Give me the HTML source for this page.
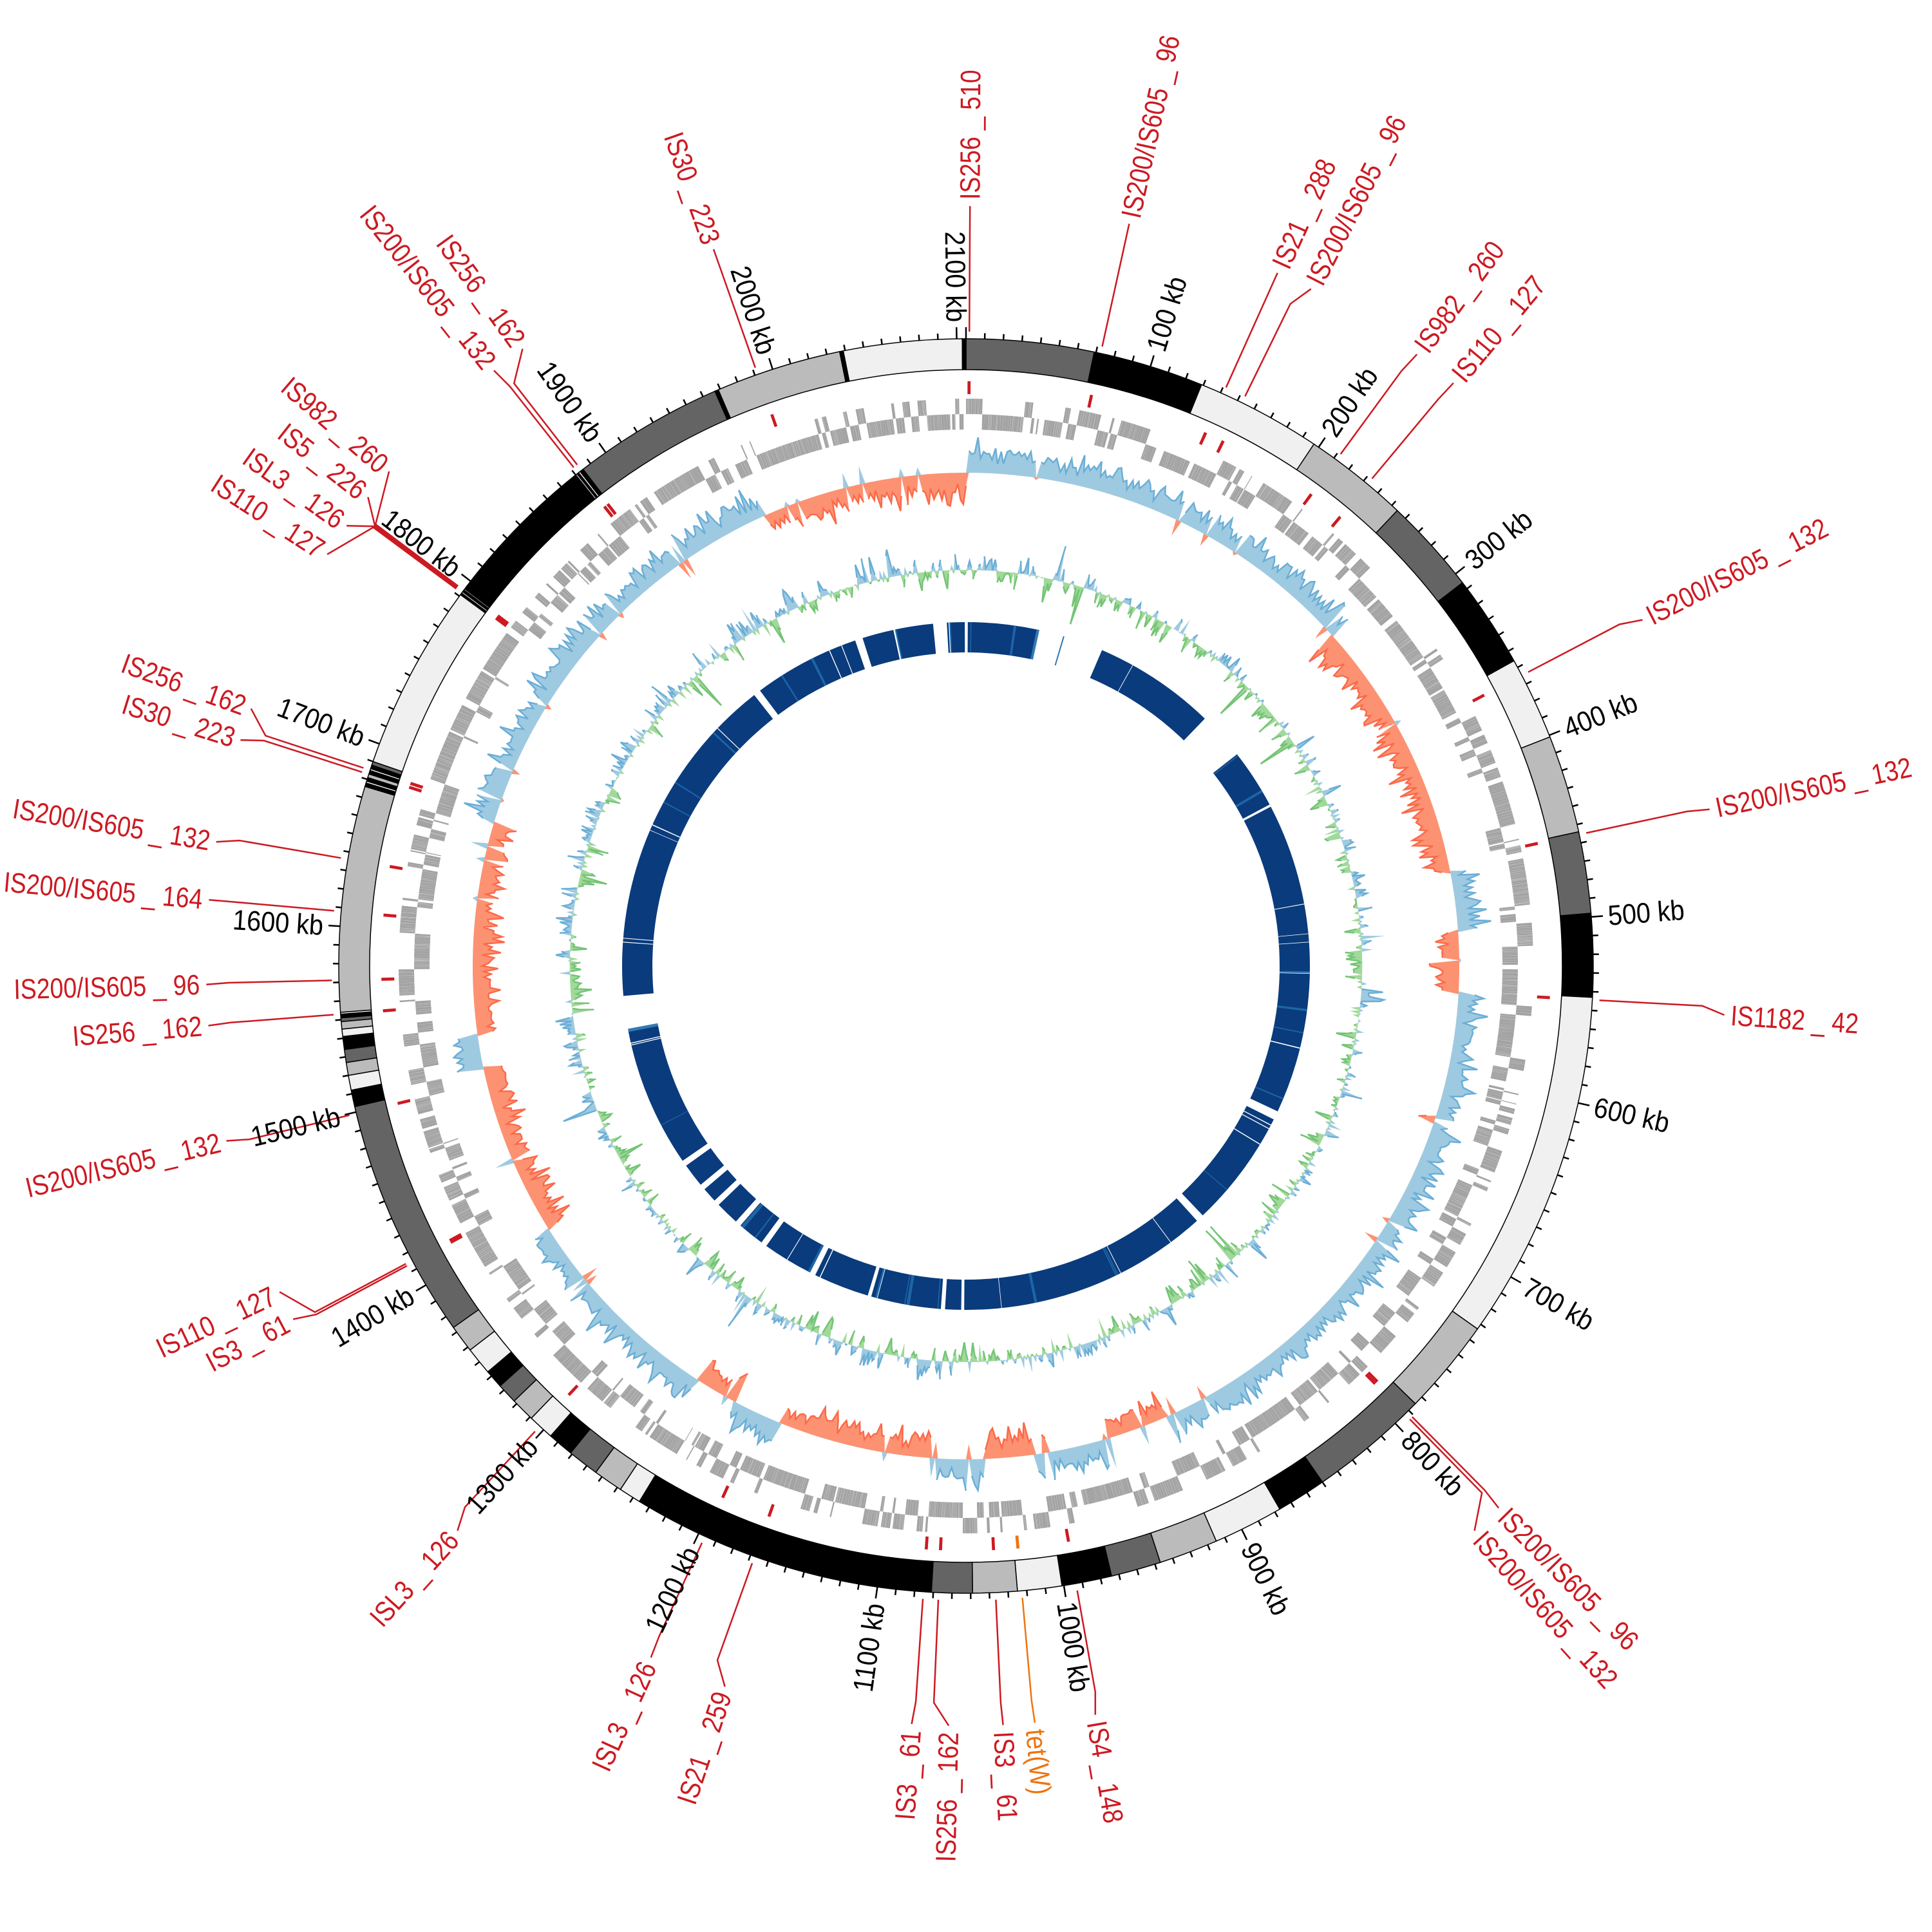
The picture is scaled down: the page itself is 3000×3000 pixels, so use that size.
<!DOCTYPE html>
<html><head><meta charset="utf-8">
<style>
html,body{margin:0;padding:0;background:#fff;}
svg{display:block;}
.r{font-family:"Liberation Sans",sans-serif;font-size:44px;fill:#cc1a22;}
.o{font-family:"Liberation Sans",sans-serif;font-size:44px;fill:#ee7410;}
.k{font-family:"Liberation Sans",sans-serif;font-size:44px;fill:#000;}
</style></head>
<body>
<svg id="s" xmlns="http://www.w3.org/2000/svg" width="3000" height="3000" viewBox="0 0 3000 3000">
<rect width="3000" height="3000" fill="#fff"/>
<g id="tracks"></g>
<g id="ring"></g>
<g id="lines" fill="none" stroke="#cc1a22" stroke-width="2.5"></g>
<g id="ticklabels" dominant-baseline="central">
<text class="k" transform="rotate(-72.90 1500 1500) translate(2500 1500) scale(0.9 1)">100 kb</text>
<text class="k" transform="rotate(-55.80 1500 1500) translate(2500 1500) scale(0.9 1)">200 kb</text>
<text class="k" transform="rotate(-38.69 1500 1500) translate(2500 1500) scale(0.9 1)">300 kb</text>
<text class="k" transform="rotate(-21.59 1500 1500) translate(2500 1500) scale(0.9 1)">400 kb</text>
<text class="k" transform="rotate(-4.49 1500 1500) translate(2500 1500) scale(0.9 1)">500 kb</text>
<text class="k" transform="rotate(12.61 1500 1500) translate(2500 1500) scale(0.9 1)">600 kb</text>
<text class="k" transform="rotate(29.71 1500 1500) translate(2500 1500) scale(0.9 1)">700 kb</text>
<text class="k" transform="rotate(46.82 1500 1500) translate(2500 1500) scale(0.9 1)">800 kb</text>
<text class="k" transform="rotate(63.92 1500 1500) translate(2500 1500) scale(0.9 1)">900 kb</text>
<text class="k" transform="rotate(81.02 1500 1500) translate(2500 1500) scale(0.9 1)">1000 kb</text>
<text class="k" text-anchor="end" transform="rotate(278.12 1500 1500) translate(500 1500) scale(0.9 1)">1100 kb</text>
<text class="k" text-anchor="end" transform="rotate(295.23 1500 1500) translate(500 1500) scale(0.9 1)">1200 kb</text>
<text class="k" text-anchor="end" transform="rotate(312.33 1500 1500) translate(500 1500) scale(0.9 1)">1300 kb</text>
<text class="k" text-anchor="end" transform="rotate(329.43 1500 1500) translate(500 1500) scale(0.9 1)">1400 kb</text>
<text class="k" text-anchor="end" transform="rotate(346.53 1500 1500) translate(500 1500) scale(0.9 1)">1500 kb</text>
<text class="k" text-anchor="end" transform="rotate(3.63 1500 1500) translate(500 1500) scale(0.9 1)">1600 kb</text>
<text class="k" text-anchor="end" transform="rotate(20.74 1500 1500) translate(500 1500) scale(0.9 1)">1700 kb</text>
<text class="k" text-anchor="end" transform="rotate(37.84 1500 1500) translate(500 1500) scale(0.9 1)">1800 kb</text>
<text class="k" text-anchor="end" transform="rotate(54.94 1500 1500) translate(500 1500) scale(0.9 1)">1900 kb</text>
<text class="k" text-anchor="end" transform="rotate(72.04 1500 1500) translate(500 1500) scale(0.9 1)">2000 kb</text>
<text class="k" text-anchor="end" transform="rotate(89.14 1500 1500) translate(500 1500) scale(0.9 1)">2100 kb</text>
</g>
<g id="labels" dominant-baseline="central">
<text class="r" transform="rotate(-89.7 1500 1500) translate(2690 1500) scale(0.85 1)">IS256 _ 510</text>
<text class="r" transform="rotate(-77.6 1500 1500) translate(2690 1500) scale(0.85 1)">IS200/IS605 _ 96</text>
<text class="r" transform="rotate(-65.8 1500 1500) translate(2690 1500) scale(0.85 1)">IS21 _ 288</text>
<text class="r" transform="rotate(-63.0 1500 1500) translate(2690 1500) scale(0.85 1)">IS200/IS605 _ 96</text>
<text class="r" transform="rotate(-53.6 1500 1500) translate(2690 1500) scale(0.85 1)">IS982 _ 260</text>
<text class="r" transform="rotate(-50.1 1500 1500) translate(2690 1500) scale(0.85 1)">IS110 _ 127</text>
<text class="r" transform="rotate(-27.1 1500 1500) translate(2690 1500) scale(0.85 1)">IS200/IS605 _ 132</text>
<text class="r" transform="rotate(-11.9 1500 1500) translate(2690 1500) scale(0.85 1)">IS200/IS605 _ 132</text>
<text class="r" transform="rotate(3.7 1500 1500) translate(2690 1500) scale(0.85 1)">IS1182 _ 42</text>
<text class="r" transform="rotate(45.5 1500 1500) translate(2690 1500) scale(0.85 1)">IS200/IS605 _ 96</text>
<text class="r" transform="rotate(48.0 1500 1500) translate(2690 1500) scale(0.85 1)">IS200/IS605 _ 132</text>
<text class="r" transform="rotate(80.2 1500 1500) translate(2690 1500) scale(0.85 1)">IS4 _ 148</text>
<text class="o" transform="rotate(84.8 1500 1500) translate(2690 1500) scale(0.85 1)">tet(W)</text>
<text class="r" transform="rotate(87.2 1500 1500) translate(2690 1500) scale(0.85 1)">IS3 _ 61</text>
<text class="r" text-anchor="end" transform="rotate(271.3 1500 1500) translate(310 1500) scale(0.85 1)">IS256 _ 162</text>
<text class="r" text-anchor="end" transform="rotate(274.1 1500 1500) translate(310 1500) scale(0.85 1)">IS3 _ 61</text>
<text class="r" text-anchor="end" transform="rotate(288.5 1500 1500) translate(310 1500) scale(0.85 1)">IS21 _ 259</text>
<text class="r" text-anchor="end" transform="rotate(294.5 1500 1500) translate(310 1500) scale(0.85 1)">ISL3 _ 126</text>
<text class="r" text-anchor="end" transform="rotate(312.0 1500 1500) translate(310 1500) scale(0.85 1)">ISL3 _ 126</text>
<text class="r" text-anchor="end" transform="rotate(332.3 1500 1500) translate(310 1500) scale(0.85 1)">IS3 _ 61</text>
<text class="r" text-anchor="end" transform="rotate(334.6 1500 1500) translate(310 1500) scale(0.85 1)">IS110 _ 127</text>
<text class="r" text-anchor="end" transform="rotate(346.7 1500 1500) translate(310 1500) scale(0.85 1)">IS200/IS605 _ 132</text>
<text class="r" text-anchor="end" transform="rotate(355.5 1500 1500) translate(310 1500) scale(0.85 1)">IS256 _ 162</text>
<text class="r" text-anchor="end" transform="rotate(358.6 1500 1500) translate(310 1500) scale(0.85 1)">IS200/IS605 _ 96</text>
<text class="r" text-anchor="end" transform="rotate(365.0 1500 1500) translate(310 1500) scale(0.85 1)">IS200/IS605 _ 164</text>
<text class="r" text-anchor="end" transform="rotate(369.4 1500 1500) translate(310 1500) scale(0.85 1)">IS200/IS605 _ 132</text>
<text class="r" text-anchor="end" transform="rotate(377.3 1500 1500) translate(310 1500) scale(0.85 1)">IS30 _ 223</text>
<text class="r" text-anchor="end" transform="rotate(379.8 1500 1500) translate(310 1500) scale(0.85 1)">IS256 _ 162</text>
<text class="r" text-anchor="end" transform="rotate(392.8 1500 1500) translate(310 1500) scale(0.85 1)">IS110 _ 127</text>
<text class="r" text-anchor="end" transform="rotate(395.4 1500 1500) translate(310 1500) scale(0.85 1)">ISL3 _ 126</text>
<text class="r" text-anchor="end" transform="rotate(398.1 1500 1500) translate(310 1500) scale(0.85 1)">IS5 _ 226</text>
<text class="r" text-anchor="end" transform="rotate(400.6 1500 1500) translate(310 1500) scale(0.85 1)">IS982 _ 260</text>
<text class="r" text-anchor="end" transform="rotate(411.6 1500 1500) translate(310 1500) scale(0.85 1)">IS200/IS605 _ 132</text>
<text class="r" text-anchor="end" transform="rotate(414.3 1500 1500) translate(310 1500) scale(0.85 1)">IS256 _ 162</text>
<text class="r" text-anchor="end" transform="rotate(430.6 1500 1500) translate(310 1500) scale(0.85 1)">IS30 _ 223</text>
</g>
</svg>
<script>
(function(){
var NS="http://www.w3.org/2000/svg",C=1500,L=2105;
function P(r,a){var t=a*Math.PI/180;return [C+r*Math.sin(t),C-r*Math.cos(t)];}
function f(v){return v.toFixed(1);}
function sec(r1,r2,a1,a2){var lg=(a2-a1)>180?1:0;var p1=P(r2,a1),p2=P(r2,a2),p3=P(r1,a2),p4=P(r1,a1);
return "M"+f(p1[0])+" "+f(p1[1])+"A"+r2+" "+r2+" 0 "+lg+" 1 "+f(p2[0])+" "+f(p2[1])+"L"+f(p3[0])+" "+f(p3[1])+"A"+r1+" "+r1+" 0 "+lg+" 0 "+f(p4[0])+" "+f(p4[1])+"Z";}
function el(g,tag,at){var e=document.createElementNS(NS,tag);for(var k in at)e.setAttribute(k,at[k]);g.appendChild(e);return e;}
function ka(k){return k*360/L;}
var seed=12345;function rnd(){seed|=0;seed=seed+0x6D2B79F5|0;var t=Math.imul(seed^seed>>>15,1|seed);t=t+Math.imul(t^t>>>7,61|t)^t;return((t^t>>>14)>>>0)/4294967296;}
var T=document.getElementById("tracks"),R=document.getElementById("ring"),LN=document.getElementById("lines");

var K="#000",D="#646464",G="#bbbbbb",V="#f0f0f0",W="#ffffff";
var segs=[[0,69,D],[69,129,K],[129,197,V],[197,254,G],[254,306,D],[306,356,K],[356,401,V],[401,454,G],[454,498,D],[498,543,K],[543,733,V],[733,785,G],[785,850,D],[850,877,K],[877,915,V],[915,947,G],[947,974,D],[974,1001,K],[1001,1025,V],[1025,1049,G],[1049,1071,D],[1071,1236,K],[1236,1248,V],[1248,1264,G],[1264,1281,D],[1281,1295,K],[1295,1309,V],[1309,1322,G],[1322,1333,D],[1333,1343,K],[1343,1358,V],[1358,1373,G],[1373,1503,D],
[1503,1512,K],[1512,1520,V],[1520,1527,G],[1527,1534,D],[1534,1541,K],[1541,1545,V],[1545,1549,G],[1549,1551,D],[1551,1553,K],[1553,1554,W],[1554,1676,G],
[1676,1678,K],[1678,1679,W],[1679,1681,K],[1681,1683,G],[1683,1685,K],[1685,1686,W],[1686,1688,K],[1688,1690,D],[1690,1791,V],[1791,1792,K],[1792,1793,G],[1793,1794,K],[1794,1795,D],[1795,1796,K],[1796,1880,K],[1880,1881,G],[1881,1882,K],[1882,1883,W],[1883,1885,K],[1885,1967,D],[1967,1969,K],[1969,2037,G],[2037,2039,K],[2039,2103,V],[2103,2105,K]];
segs.forEach(function(s){el(R,"path",{d:sec(926,974,ka(s[0]),ka(s[1])),fill:s[2],stroke:"#000","stroke-width":"1.5"});});
var td="";for(var k=0;k<2105;k+=10){var a=ka(k),big=(k%100==0),p1=P(974,a),p2=P(big?992:983,a);td+="M"+f(p1[0])+" "+f(p1[1])+"L"+f(p2[0])+" "+f(p2[1]);}
el(R,"path",{d:td,stroke:"#000","stroke-width":"2.5",fill:"none"});

var labs=[[0.3,0.3],[12.4,12.4],[24.2,24.2],[26.1,27.0],[36.2,36.4],[39.8,39.9],[62.4,62.9],[77.9,78.1],[93.1,93.7],[135.3,135.5],[135.6,138],[169.9,170.2],[174.9,174.8,1],[177.3,177.2],
[182.5,181.3],[183.9,184.1],[199.7,198.5],[204.6,204.5],[222.8,222],[241.8,242.3],[242.0,244.6],[256.4,256.7],[265.6,265.5],[268.7,268.6],[275,275],[279.8,279.4],[287.8,287.3],[288.2,289.8],[306.5,302.8],[306.6,305.4],[306.7,308.1],[306.8,310.6],[321.8,321.6],[322.2,324.3],[340.6,340.6]];
labs.forEach(function(l){var a=P(985,l[0]),b=P(1145,l[0]),c=P(1180,l[1]);
el(LN,"path",{d:"M"+f(a[0])+" "+f(a[1])+"L"+f(b[0])+" "+f(b[1])+"L"+f(c[0])+" "+f(c[1]),stroke:l[2]?"#ee7410":"#cc1a22"});
var w=0.3;el(T,"path",{d:sec(888,908,l[0]-w/2,l[0]+w/2),fill:l[2]?"#ee7410":"#cc1a22"});});

/* gene track */
var dF="",dR="",pos=0,str=1;
while(pos<2104){if(rnd()<0.12)str=-str;var len=0.3+rnd()*1.4;if(rnd()<0.025)pos+=1+rnd()*4;
if(pos+len>2105)break;var a1=ka(pos),a2=ka(pos+len);if(str>0)dF+=sec(857,881,a1,a2);else dR+=sec(833,857,a1,a2);pos+=len+0.03+rnd()*0.08;}
el(T,"path",{d:dF,fill:"#a3a3a3"});el(T,"path",{d:dR,fill:"#a3a3a3"});

function plot(base,vals,cp,sp,cn,sn){var N=vals.length,pp=[],pn=[];
for(var i=0;i<=N;i++){var a=360*i/N,v=vals[i%N];pp.push(P(base+Math.max(v,0),a));pn.push(P(base+Math.min(v,0),a));}
function area(pts){var d="M"+f(pts[0][0])+" "+f(pts[0][1]);for(var i=1;i<pts.length;i++)d+="L"+f(pts[i][0])+" "+f(pts[i][1]);
var q=P(base,0);d+="L"+f(q[0])+" "+f(q[1])+"A"+base+" "+base+" 0 1 0 "+f(P(base,180)[0])+" "+f(P(base,180)[1])+"A"+base+" "+base+" 0 1 0 "+f(q[0])+" "+f(q[1])+"Z";return d;}
function line(pts,pos){var d="",on=false;for(var i=0;i<=N;i++){var v=vals[i%N];var ok=pos?v>0.5:v<-0.5;
if(ok){d+=(on?"L":"M")+f(pts[i][0])+" "+f(pts[i][1]);on=true;}else on=false;}return d;}
el(T,"path",{d:area(pp),fill:cp,"fill-rule":"evenodd"});el(T,"path",{d:area(pn),fill:cn,"fill-rule":"evenodd"});
el(T,"path",{d:line(pp,true),fill:"none",stroke:sp,"stroke-width":"2.5"});el(T,"path",{d:line(pn,false),fill:"none",stroke:sn,"stroke-width":"2.5"});}

var reg=[[0,48,1],[48,79,-1],[79,86,1],[86,93,-1],[93,156,1],[156,163,-1],[163,172,1],[172,178,-1],[178,184,1],[184,202,-1],[202,208,1],[208,213,-1],[213,238,1],[238,258,-1],[258,262,1],[262,287,-1],[287,336,1],[336,360,-1]];
function sg(a){for(var i=0;i<reg.length;i++)if(a>=reg[i][0]&&a<reg[i][1])return reg[i][2];return 1;}
var N=1100,sk=[],sm=0.5;
for(var i=0;i<N;i++){var a=360*i/N,s=sg(a);sm=0.85*sm+0.15*rnd();var v=s*(10+32*sm+25*Math.pow(rnd(),3));if(rnd()<0.05)v=-s*(5+25*rnd());if(rnd()<0.5&&i%2)v*=0.55;sk.push(v);}
plot(766,sk,"#9ecae1","#6baed6","#fc9272","#fb6a4a");

var gc=[],st=0;N=1400;
for(var i=0;i<N;i++){st=0.7*st+0.3*(rnd()*2-1);var v=st*40+(rnd()*2-1)*20;if(rnd()<0.06)v*=2.4;if(i%2)v*=0.45;gc.push(Math.max(-60,Math.min(55,v)));}
plot(615,gc,"#9ecae1","#6baed6","#a1d99b","#74c476");

/* inner blue ring */
var gl=[[0,0.3],[11.9,23.3],[44,52],[62,62.4],[91,91.3],[115,116.5],[136.5,137.8],[180.3,180.8],[183.5,184.2],[196,196.6],[206,207],[215.5,216.5],[221,222],[226,227],[229.5,230.5],[234.5,235.5],[259,265],[322,323.2],[341.2,342.5],[347.8,348.2],[354.5,356.8],[359.8,360]];
var d="";for(var i=0;i<gl.length;i++){var s=gl[i][1],e=(i+1<gl.length)?gl[i+1][0]:gl[0][0]+360;if(e>s)d+=sec(487,534,s,e);}
el(T,"path",{d:d,fill:"#0a3b7c"});
var ds="";for(var i=0;i<30;i++){var a=rnd()*360,w=0.1+rnd()*0.5;ds+=sec(487,534,a,a+w);}
el(T,"path",{d:ds,fill:"#1f6aab",opacity:"0.9"});
var dw="";for(var i=0;i<25;i++){var a=rnd()*360,w=0.08+rnd()*0.1;dw+=sec(487,534,a,a+w);}
el(T,"path",{d:dw,fill:"#fff"});
})();
</script>
</body></html>
